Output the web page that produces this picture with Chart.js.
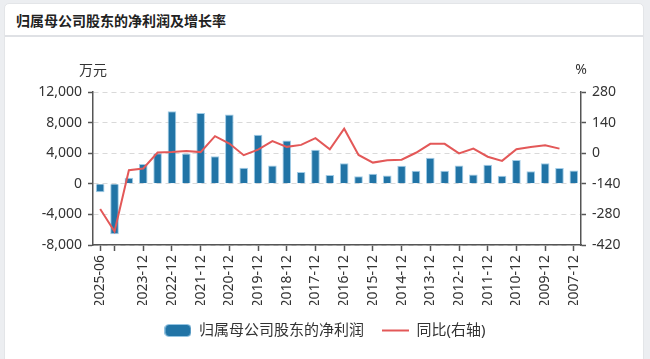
<!DOCTYPE html>
<html>
<head>
<meta charset="utf-8">
<script src="https://cdn.jsdelivr.net/npm/chart.js@4/dist/chart.umd.min.js"></script>
<style>
html,body{margin:0;padding:0;}
body{width:650px;height:359px;background:#eceef1;position:relative;overflow:hidden;font-family:'Noto Sans CJK SC','Noto Sans',sans-serif;}
#card{position:absolute;left:4px;top:3px;width:640px;height:370px;background:#fff;border:1px solid #e3e5e8;border-radius:5px;box-sizing:border-box;}
#title{position:absolute;left:0;top:0;width:100%;height:31px;border-bottom:2px solid #dfe1e5;}
#title span{position:absolute;left:11px;top:6px;font-size:14px;font-weight:bold;color:#222;line-height:20px;}
#wrap{position:absolute;left:0;top:0;width:650px;height:359px;}
</style>
</head>
<body>
<div id="card"><div id="title"><span>归属母公司股东的净利润及增长率</span></div></div>
<div id="wrap"><canvas id="c" width="650" height="359"></canvas></div>
<script>
// ---- data ----
const categories = ['2025-06','2024-12','2024-06','2023-12','2023-06','2022-12','2022-06','2021-12','2021-06','2020-12','2020-06','2019-12','2019-06','2018-12','2018-06','2017-12','2017-06','2016-12','2016-06','2015-12','2015-06','2014-12','2014-06','2013-12','2013-06','2012-12','2012-06','2011-12','2011-06','2010-12','2010-06','2009-12','2008-12','2007-12'];
const netProfit = [-1100,-6600,800,2600,4000,9500,3950,9250,3600,9050,2100,6400,2400,5650,1550,4450,1150,2700,1000,1300,1100,2350,1700,3400,1700,2400,1200,2500,1050,3100,1650,2700,2050,1750];
const yoyGrowth = [-255,-358,-78,-70,3,5,10,5,78,44,-9,16,55,29,38,69,18,112,-8,-43,-32,-30,2,43,43,-1,21,-16,-35,18,28,36,21,null];
const shownLabels = ['2025-06','2023-12','2022-12','2021-12','2020-12','2019-12','2018-12','2017-12','2016-12','2015-12','2014-12','2013-12','2012-12','2011-12','2010-12','2009-12','2007-12'];
const tickedCategories = ['2025-06','2024-12','2023-12','2022-12','2021-12','2020-12','2019-12','2018-12','2017-12','2016-12','2015-12','2014-12','2013-12','2012-12','2011-12','2010-12','2009-12','2007-12'];
const leftTicks = [-8000,-4000,0,4000,8000,12000];
const rightTicks = [-420,-280,-140,0,140,280];
const seriesNames = ['归属母公司股东的净利润','同比(右轴)'];
const leftUnit = '万元';
const rightUnit = '%';

// ---- styles ----
const FONT = "'Noto Sans','Noto Sans CJK SC',sans-serif";
const barColor = 'rgb(33,116,166)';
const barBorder = 'rgba(150,198,228,0.9)';
const lineColor = '#e35858';
const axisColor = '#555';

const barIcon = document.createElement('canvas');
barIcon.width = 27; barIcon.height = 13;
(function(){
  const g = barIcon.getContext('2d');
  g.fillStyle = barColor;
  g.beginPath();
  g.roundRect(0.5,0.5,26,12,4);
  g.fill();
  g.strokeStyle = barBorder; g.lineWidth = 1; g.stroke();
})();

const unitPlugin = {
  id: 'units',
  afterDraw(chart){
    const ctx = chart.ctx;
    const {left, right, top} = chart.chartArea;
    ctx.save();
    ctx.font = '14px ' + FONT;
    ctx.fillStyle = '#333';
    ctx.textAlign = 'center';
    ctx.textBaseline = 'middle';
    ctx.fillText(leftUnit, left, top - 21);
    ctx.fillText(rightUnit, right, top - 22);
    ctx.restore();
  }
};

new Chart(document.getElementById('c'), {
  data: {
    labels: categories,
    datasets: [
      {type:'bar', label: seriesNames[0], data: netProfit, yAxisID:'y', order: 1,
       backgroundColor: barColor, borderColor: barBorder, borderWidth: 1,
       categoryPercentage: 1, barPercentage: 0.6},
      {type:'line', label: seriesNames[1], data: yoyGrowth, yAxisID:'y1', order: 0,
       borderColor: lineColor, backgroundColor: lineColor, borderWidth: 2,
       pointRadius: 0, tension: 0, fill: false}
    ]
  },
  options: {
    responsive: false,
    animation: false,
    layout: {padding: {left: 0, right: 0, top: 92, bottom: 11}},
    plugins: {
      tooltip: {enabled: false},
      legend: {
        position: 'bottom',
        labels: {
          usePointStyle: true,
          pointStyleWidth: 27,
          boxHeight: 13,
          padding: 18,
          color: '#333',
          font: {size: 15, family: FONT},
          generateLabels: () => [
            {text: seriesNames[0], pointStyle: barIcon, fillStyle: barColor, strokeStyle: barBorder, lineWidth: 1, hidden: false, datasetIndex: 0, fontColor: '#333'},
            {text: seriesNames[1], pointStyle: 'line', fillStyle: lineColor, strokeStyle: lineColor, lineWidth: 2, hidden: false, datasetIndex: 1, fontColor: '#333'}
          ]
        }
      }
    },
    scales: {
      x: {
        type: 'category',
        offset: true,
        afterFit: s => { s.height = 60; },
        grid: {
          display: true, drawOnChartArea: false, offset: false, drawTicks: true,
          tickLength: 6, tickWidth: 1.5,
          tickColor: c => tickedCategories.includes(categories[c.index]) ? axisColor : 'rgba(0,0,0,0)'
        },
        border: {display: true, color: axisColor, width: 1.5},
        ticks: {
          autoSkip: false, minRotation: 90, maxRotation: 90, padding: 4,
          color: '#333', font: {size: 14, family: FONT},
          callback: (v, i) => shownLabels.includes(categories[i]) ? categories[i] : ''
        }
      },
      y: {
        position: 'left',
        min: leftTicks[0], max: leftTicks[leftTicks.length - 1],
        afterFit: s => { s.width = 93; },
        afterBuildTicks: s => { s.ticks = leftTicks.map(v => ({value: v})); },
        grid: {color: '#d9d9d9', lineWidth: 1, drawTicks: true, tickLength: 5, tickColor: axisColor, tickWidth: 1.5, tickBorderDash: []},
        border: {display: true, color: axisColor, width: 1.5, dash: [5,4]},
        ticks: {padding: 6, color: '#333', font: {size: 14, family: FONT},
          callback: v => v.toLocaleString('en-US')}
      },
      y1: {
        position: 'right',
        min: rightTicks[0], max: rightTicks[rightTicks.length - 1],
        afterFit: s => { s.width = 69; },
        afterBuildTicks: s => { s.ticks = rightTicks.map(v => ({value: v})); },
        grid: {drawOnChartArea: false, drawTicks: true, tickLength: 5, tickColor: axisColor, tickWidth: 1.5},
        border: {display: true, color: axisColor, width: 1.5},
        ticks: {padding: 6, color: '#333', font: {size: 14, family: FONT},
          callback: v => v.toLocaleString('en-US')}
      }
    }
  },
  plugins: [unitPlugin]
});
</script>
</body>
</html>
